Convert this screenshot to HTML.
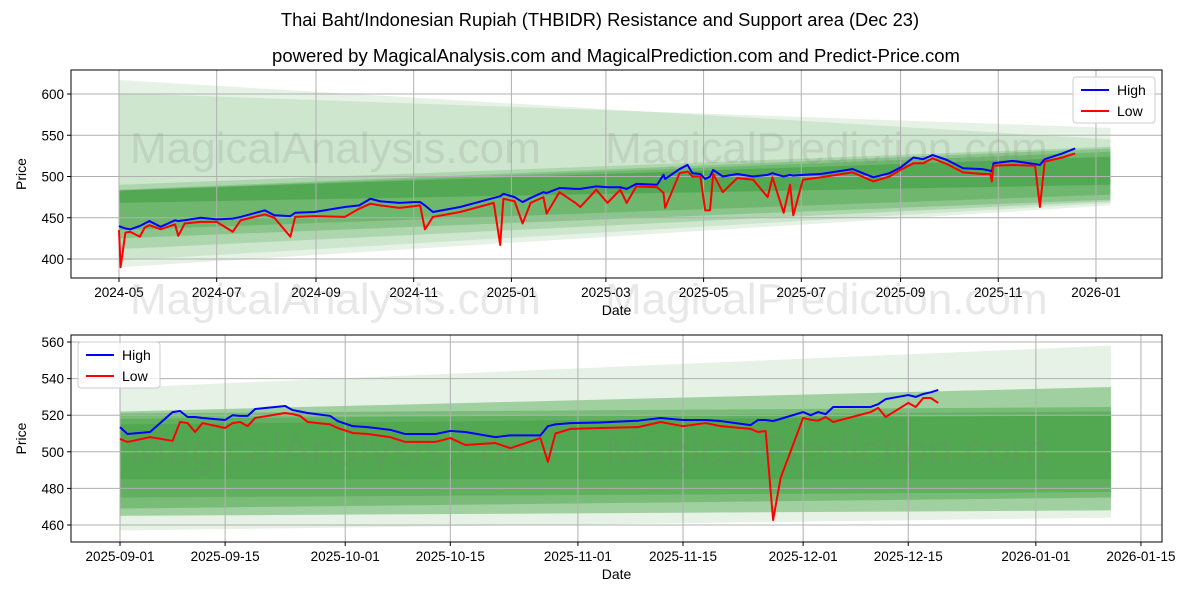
<!DOCTYPE html>
<html><head><meta charset="utf-8"><style>
html,body{margin:0;padding:0;background:#fff;}
svg{display:block;font-family:"Liberation Sans","DejaVu Sans",sans-serif;}
</style></head><body>
<svg id="chart" width="1200" height="600" xmlns="http://www.w3.org/2000/svg">
<rect width="1200" height="600" fill="#fff"/>
<text x="600" y="26" text-anchor="middle" font-size="18.3">Thai Baht/Indonesian Rupiah (THBIDR) Resistance and Support area (Dec 23)</text>
<text x="616" y="62" text-anchor="middle" font-size="18.5">powered by MagicalAnalysis.com and MagicalPrediction.com and Predict-Price.com</text>
<g id="top"></g>
<g id="bot"></g>
</svg>
<script>
// ---- top panel data (days since 2024-05-01) ----
const topDays=[0,1,4,7,13,16,19,26,35,37,41,51,61,71,76,91,97,107,110,122,141,150,157,163,175,184,188,191,196,213,234,238,240,247,252,257,265,267,275,285,288,298,305,313,317,323,336,340,341,350,355,358,363,366,369,371,377,386,396,405,408,415,419,421,427,438,458,471,481,488,496,502,508,517,527,539,544,545,546,558,572,575,578,589,597];
const topHigh=[440,439,437,436,440,443,446,439,447,446,447,450,448,449,451,459,453,452,456,457,463,465,473,470,468,469,469,465,457,463,474,476,479,475,469,474,481,480,486,485,485,488,487,487,485,491,490,502,497,509,514,504,503,497,500,508,500,503,500,502,504,500,502,501,502,503,509,499,504,511,523,521,526,520,510,509,507,506,516,519,515,514,521,528,534];
const topLow=[435,390,432,433,427,438,441,436,442,428,443,445,445,433,447,454,450,427,451,452,451,461,467,465,462,464,465,436,451,457,468,417,473,470,443,468,475,455,481,468,463,484,468,484,468,488,487,480,462,504,506,500,500,459,459,503,481,498,496,475,499,456,490,453,496,499,505,494,500,508,516,516,522,515,505,503,503,494,513,514,513,463,518,523,528];
const topYTicks=[400,450,500,550,600];
const topXTickLabels=["2024-05","2024-07","2024-09","2024-11","2025-01","2025-03","2025-05","2025-07","2025-09","2025-11","2026-01"];
const topXTickDays=[0,61,123,184,245,304,365,426,488,549,610];
const topBandEndDay=619;
const topBandUp0=[617,601,490,484,483,483];
const topBandUp1=[545,559,536,534,530,524];
const topBandLo0=[390,398,412,425,435,468];
const topBandLo1=[465,468,470,472,478,490];
// ---- bottom panel data (days since 2025-09-01) ----
const botDays=[0,1,4,7,8,9,10,11,14,15,16,17,18,22,23,24,25,28,29,31,33,36,38,42,44,46,50,52,56,57,58,60,64,69,72,75,78,80,84,85,86,87,88,91,92,93,94,95,100,101,102,105,106,107,108,109];
const botHigh=[513.5,509.7,510.8,521.7,522.3,519,519,518.5,517.4,520,519.6,519.6,523.4,525,522.8,522,521.2,519.6,516.8,514,513.5,512,509.7,509.7,511.4,510.8,508,509,509,514,515,515.7,516,517,518.5,517.4,517.4,516.8,514.6,517.4,517.4,516.8,518,521.7,520,521.7,520.6,524.5,524.5,526,528.8,531,530,531.6,532.5,533.8];
const botLow=[507,505.4,508,506,516.3,515.7,510.8,515.7,513,515.7,516.3,514,518.5,521.2,520.6,519.6,516.3,515,513,510.3,509.7,508,505.4,505.4,507.5,503.7,504.8,502,507.5,494.5,510,512.5,513,513.5,516.3,514,515.7,514,512.5,510.8,511.4,462.7,485.7,518.5,517.5,517,519,516.3,521.7,524,519,526.7,524.5,529.4,529.4,526.7];
const botYTicks=[460,480,500,520,540,560];
const botXTickLabels=["2025-09-01","2025-09-15","2025-10-01","2025-10-15","2025-11-01","2025-11-15","2025-12-01","2025-12-15","2026-01-01","2026-01-15"];
const botXTickDays=[0,14,30,44,61,75,91,105,122,136];
const botBandEndDay=132;
const botBandUp0=[535,522,521,518,515];
const botBandUp1=[558,535.4,524.5,522,520];
const botBandLo0=[457,465,469,475,485];
const botBandLo1=[464,468,475,478,485];

const NS="http://www.w3.org/2000/svg";
function mk(parent,tag,attrs,text){const e=document.createElementNS(NS,tag);for(const k in attrs)e.setAttribute(k,attrs[k]);if(text!==undefined)e.textContent=text;parent.appendChild(e);return e;}

function panel(g,cfg){
  const {L,R,T,B,xs,ys}=cfg;
  const alphas=cfg.alphas;
  for(let i=0;i<cfg.up0.length;i++){
    const x0=xs(0),x1=xs(cfg.endDay);
    const p=mk(g,'polygon',{points:`${x0},${ys(cfg.up0[i])} ${x1},${ys(cfg.up1[i])} ${x1},${ys(cfg.lo1[i])} ${x0},${ys(cfg.lo0[i])}`,fill:'#008000','fill-opacity':alphas[i]});
    
    
  }
  cfg.xDays.forEach((d,i)=>{
    const l=mk(g,'line',{x1:xs(d),x2:xs(d),y1:T,y2:B,stroke:'#b0b0b0','stroke-width':1});
    
    
    mk(g,'line',{x1:xs(d),x2:xs(d),y1:B,y2:B+4,stroke:'#000'});
    const t=mk(g,'text',{x:xs(d),y:B+19,'text-anchor':'middle','font-size':13.5},cfg.xLabels[i]);
    
    
  });
  cfg.yTicks.forEach(v=>{
    const l=mk(g,'line',{x1:L,x2:R,y1:ys(v),y2:ys(v),stroke:'#b0b0b0','stroke-width':1});
    
    
    mk(g,'line',{x1:L-4,x2:L,y1:ys(v),y2:ys(v),stroke:'#000'});
    const t=mk(g,'text',{x:L-7,y:ys(v)+5,'text-anchor':'end','font-size':13.5},String(v));
    
    
  });
  cfg.marks.forEach(m=>{
    const t=mk(g,'text',{x:m[0],y:m[1],'font-size':44,fill:'#808080','fill-opacity':0.18},m[2]);
    
    
  });
  const line=(vals,color,name)=>{
    const pts=cfg.days.map((d,i)=>xs(d)+','+ys(vals[i])).join(' ');
    const p=mk(g,'polyline',{points:pts,fill:'none',stroke:color,'stroke-width':2,'stroke-linejoin':'round'});
    
    
  };
  line(cfg.high,'#0000ff','high-line');
  line(cfg.low,'#ff0000','low-line');
  const f=mk(g,'rect',{x:L,y:T,width:R-L,height:B-T,fill:'none',stroke:'#000','stroke-width':1});
  
  
  const xt=mk(g,'text',{x:(L+R)/2,y:B+37,'text-anchor':'middle','font-size':14},'Date');
  
  
  const yt=mk(g,'text',{x:0,y:0,'text-anchor':'middle','font-size':14,transform:`translate(26,${(T+B)/2}) rotate(-90)`},'Price');
  
  
  const [lx,ly]=cfg.legend;
  const lg=mk(g,'g',{});
  
  
  mk(lg,'rect',{x:lx,y:ly,width:82,height:46,rx:3,fill:'#fff','fill-opacity':0.8,stroke:'#ccc'});
  [['High','#0000ff'],['Low','#ff0000']].forEach((e,i)=>{
    const eg=mk(lg,'g',{});
    
    
    mk(eg,'line',{x1:lx+8,x2:lx+36,y1:ly+13+i*21,y2:ly+13+i*21,stroke:e[1],'stroke-width':2});
    mk(eg,'text',{x:lx+44,y:ly+18+i*21,'font-size':14},e[0]);
  });
}

panel(document.getElementById('top'),{
  L:71,R:1162,T:70,B:278,
  xs:d=>119+d*1.6016, ys:v=>94+(600-v)*0.825,
  days:topDays,high:topHigh,low:topLow,
  up0:topBandUp0,up1:topBandUp1,lo0:topBandLo0,lo1:topBandLo1,endDay:topBandEndDay,
  alphas:[0.1,0.1,0.15,0.2,0.2,0.25],
  xDays:topXTickDays,xLabels:topXTickLabels,yTicks:topYTicks,
  marks:[[130,163,'MagicalAnalysis.com'],[605,163,'MagicalPrediction.com'],[130,314,'MagicalAnalysis.com'],[605,314,'MagicalPrediction.com']],
  legend:[1073,77]
});
panel(document.getElementById('bot'),{
  L:71,R:1162,T:335,B:542,
  xs:d=>120+d*7.507, ys:v=>342+(560-v)*1.83,
  days:botDays,high:botHigh,low:botLow,
  up0:botBandUp0,up1:botBandUp1,lo0:botBandLo0,lo1:botBandLo1,endDay:botBandEndDay,
  alphas:[0.1,0.3,0.25,0.2,0.15],
  xDays:botXTickDays,xLabels:botXTickLabels,yTicks:botYTicks,
  marks:[[130,465,'MagicalAnalysis.com'],[605,465,'MagicalPrediction.com']],
  legend:[78,342]
});
</script>
</body></html>
